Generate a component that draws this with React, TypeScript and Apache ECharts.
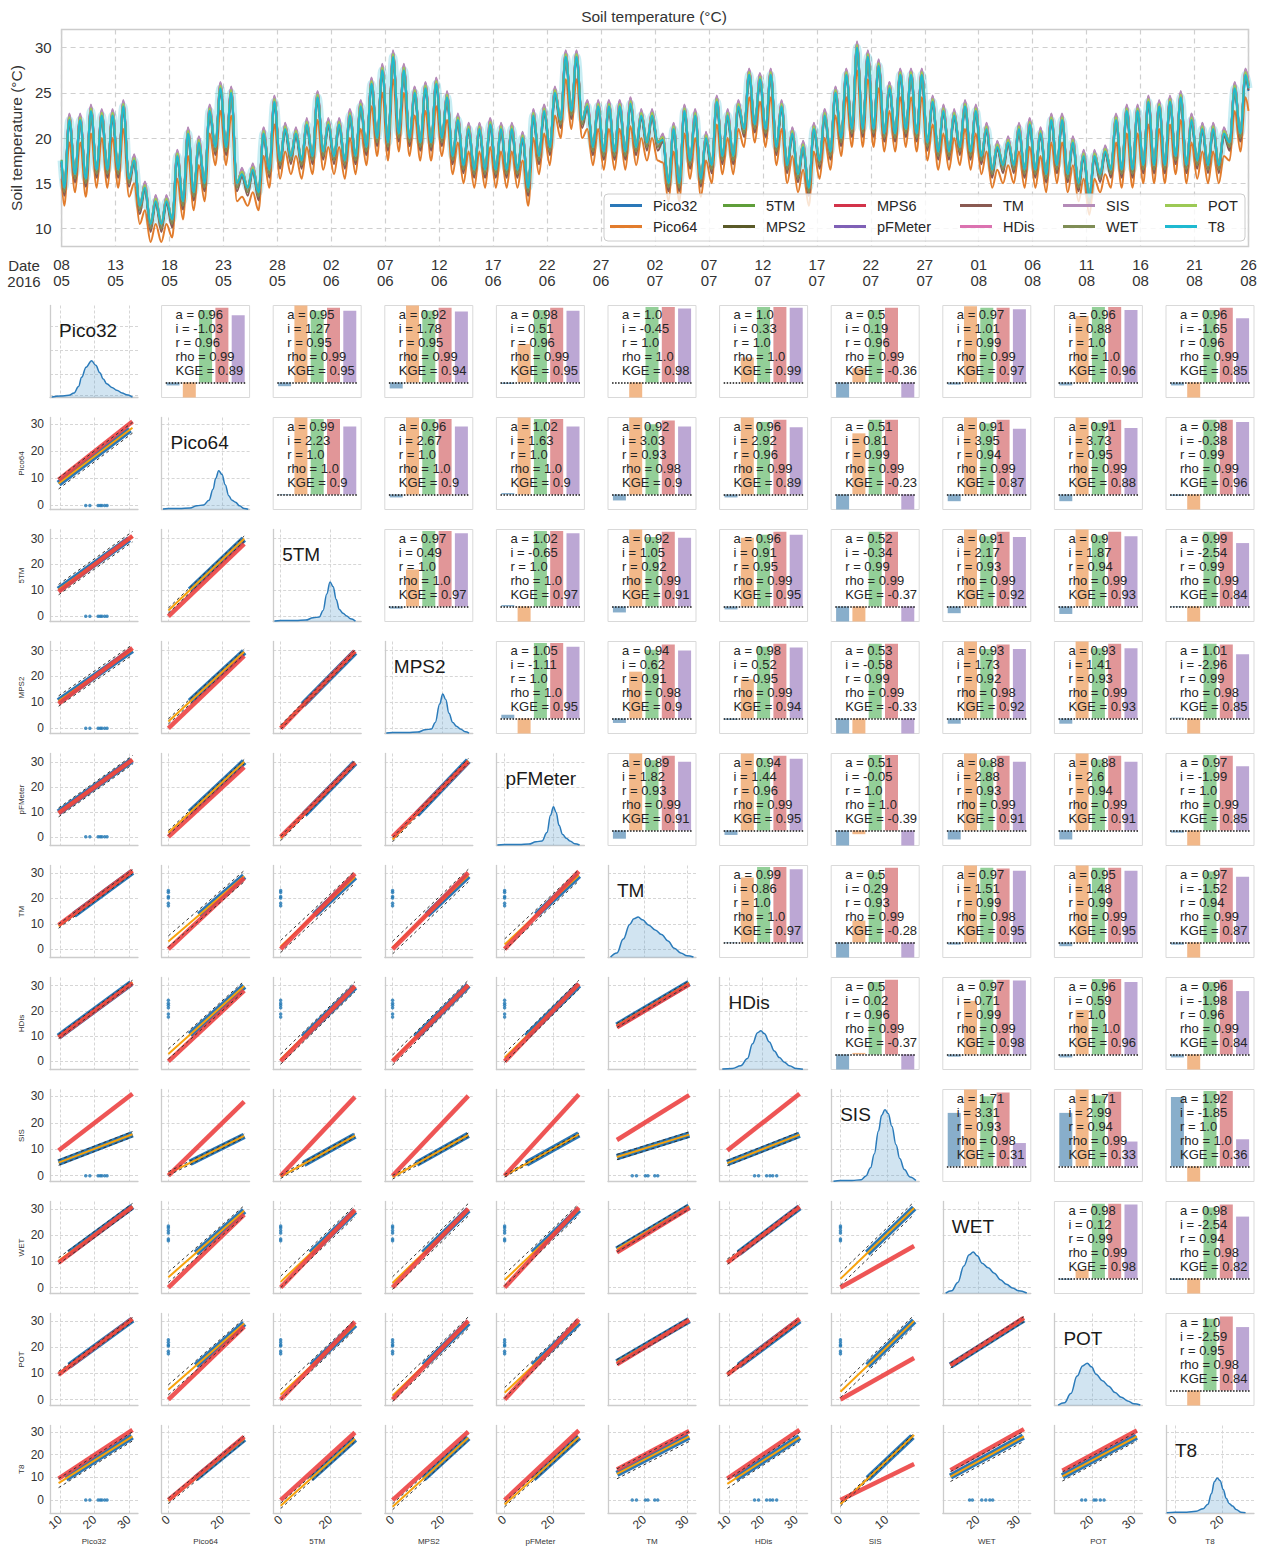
import React, { useEffect, useRef } from "react";
import * as echarts from "echarts";

const FONT = '"Liberation Sans", Arial, sans-serif';

// ---------------- time series (top panel) ----------------
const SENSORS = ["Pico32", "Pico64", "5TM", "MPS2", "MPS6", "pFMeter", "TM", "HDis", "SIS", "WET", "POT", "T8"];
const SENSOR_COLORS = ["#2a78b8", "#e27c2c", "#5f9e3a", "#5a5a28", "#d3334a", "#7f60b6", "#8a5a52", "#db72b0", "#b48bb8", "#7f8d55", "#9cc955", "#1fb9d0"];
// offsets (°C) of each sensor's daily max / min relative to T8
const PEAK_OFFSET = [-0.3, -2.5, 0.4, 0.2, 0.3, 0.5, -0.2, 0.6, 0.7, 0.0, 0.3, 0];
const TROUGH_OFFSET = [-0.2, -2.0, 0.1, -0.2, -0.3, -0.2, -0.9, -0.4, -0.3, -0.5, 0.0, 0];
// T8 daily maxima and minima, day 0 = 08/05/2016
const T8_DAILY_MAX = [
  22, 22, 23, 22.5, 22.5, 23.5, 17.5, 14.5, 13, 13,
  18, 20.5, 19.5, 23, 25.5, 25, 16, 16.5, 20.5, 24,
  21, 20.5, 21.5, 24.5, 21.5, 21.5, 22.5, 23.5, 26, 27.5,
  29, 27.5, 25, 25.5, 26, 24.5, 22, 21, 21, 21.5,
  21, 21, 20, 22.5, 23, 25, 29, 29, 23.5, 23.5,
  23.5, 23.5, 23.8, 22.5, 22.5, 19.8, 21, 23, 22.5, 20,
  24, 22.5, 23.5, 27, 26.5, 27, 23.5, 20.5, 19, 21,
  22.5, 25, 27, 30, 29, 28, 25.5, 27, 27, 27,
  24, 23, 22.5, 23.5, 23, 21, 19, 19.5, 21, 21.5,
  20.5, 22, 22, 19.5, 18, 18, 18.5, 22, 23, 23,
  24, 23.5, 24, 24.5, 22, 21, 21, 20.5, 25.5, 27,
];
const T8_DAILY_MIN = [
  14.5, 16, 15.5, 16.5, 16.5, 16.5, 15.5, 12.5, 10.5, 10.5,
  11, 13, 14, 15, 19, 19, 15, 14.5, 14, 16.5,
  17.5, 18, 17.5, 18, 18.5, 18, 17.5, 18, 19, 20,
  19.5, 20.5, 20, 19.5, 19.5, 20, 18, 17, 16.5, 16.5,
  16.5, 16.5, 16.5, 14.5, 18, 19, 22, 23, 22, 19,
  18.5, 18.5, 18.5, 19, 19.5, 19.5, 15, 15, 17.5, 15.5,
  17, 18, 18, 21, 21.5, 21, 19, 17, 16, 14.5,
  17.5, 18.5, 20, 21, 21, 21, 20.5, 20.5, 21, 20.5,
  19.5, 18.5, 18.5, 19, 18.5, 18, 16.5, 17, 17, 16.5,
  16.5, 16, 17, 16, 15, 13.5, 16, 16.5, 16.5, 16.5,
  17, 17, 17, 18, 17, 17.5, 17, 17, 19.5, 20.5,
];
const T8_FIRST = 17.5;
const T8_LAST = 25.5;
const TS_Y_TICKS = [10, 15, 20, 25, 30];

// ---------------- pair grid ----------------
const VARS = ["Pico32", "Pico64", "5TM", "MPS2", "pFMeter", "TM", "HDis", "SIS", "WET", "POT", "T8"];
// statistics of the upper panels, row-major over (row < col): col = a * row + i
const STAT_A = [
  0.96, 0.95, 0.92, 0.98, 1.0, 1.0, 0.5, 0.97, 0.96, 0.96,
  0.99, 0.96, 1.02, 0.92, 0.96, 0.51, 0.91, 0.91, 0.98,
  0.97, 1.02, 0.92, 0.96, 0.52, 0.91, 0.9, 0.99,
  1.05, 0.94, 0.98, 0.53, 0.93, 0.93, 1.01,
  0.89, 0.94, 0.51, 0.88, 0.88, 0.97,
  0.99, 0.5, 0.97, 0.95, 0.97,
  0.5, 0.97, 0.96, 0.96,
  1.71, 1.71, 1.92,
  0.98, 0.98,
  1.0,
];
const STAT_I = [
  -1.03, 1.27, 1.78, 0.51, -0.45, 0.33, 0.19, 1.01, 0.88, -1.65,
  2.23, 2.67, 1.63, 3.03, 2.92, 0.81, 3.95, 3.73, -0.38,
  0.49, -0.65, 1.05, 0.91, -0.34, 2.17, 1.87, -2.54,
  -1.11, 0.62, 0.52, -0.58, 1.73, 1.41, -2.96,
  1.82, 1.44, -0.05, 2.88, 2.6, -1.99,
  0.86, 0.29, 1.51, 1.48, -1.52,
  0.02, 0.71, 0.59, -1.98,
  3.31, 2.99, -1.85,
  0.12, -2.54,
  -2.59,
];
const STAT_R = [
  0.96, 0.95, 0.95, 0.96, 1.0, 1.0, 0.96, 0.99, 1.0, 0.96,
  1.0, 1.0, 1.0, 0.93, 0.96, 0.99, 0.94, 0.95, 0.99,
  1.0, 1.0, 0.92, 0.95, 0.99, 0.93, 0.94, 0.99,
  1.0, 0.91, 0.95, 0.99, 0.92, 0.93, 0.99,
  0.93, 0.96, 1.0, 0.93, 0.94, 1.0,
  1.0, 0.93, 0.99, 0.99, 0.94,
  0.96, 0.99, 1.0, 0.96,
  0.93, 0.94, 1.0,
  0.99, 0.94,
  0.95,
];
const STAT_RHO = [
  0.99, 0.99, 0.99, 0.99, 1.0, 1.0, 0.99, 0.99, 1.0, 0.99,
  1.0, 1.0, 1.0, 0.98, 0.99, 0.99, 0.99, 0.99, 0.99,
  1.0, 1.0, 0.99, 0.99, 0.99, 0.99, 0.99, 0.99,
  1.0, 0.98, 0.99, 0.99, 0.98, 0.99, 0.98,
  0.99, 0.99, 1.0, 0.99, 0.99, 0.99,
  1.0, 0.99, 0.98, 0.99, 0.99,
  0.99, 0.99, 1.0, 0.99,
  0.98, 0.99, 1.0,
  0.99, 0.98,
  0.98,
];
const STAT_KGE = [
  0.89, 0.95, 0.94, 0.95, 0.98, 0.99, -0.36, 0.97, 0.96, 0.85,
  0.9, 0.9, 0.9, 0.9, 0.89, -0.23, 0.87, 0.88, 0.96,
  0.97, 0.97, 0.91, 0.95, -0.37, 0.92, 0.93, 0.84,
  0.95, 0.9, 0.94, -0.33, 0.92, 0.93, 0.85,
  0.91, 0.95, -0.39, 0.91, 0.91, 0.85,
  0.97, -0.28, 0.95, 0.95, 0.87,
  -0.37, 0.98, 0.96, 0.84,
  0.31, 0.33, 0.36,
  0.98, 0.82,
  0.84,
];
// half width of the dashed prediction band (°C)
const STAT_PI = [
  2.0, 2.0, 2.0, 1.8, 0.8, 0.8, 1.0, 1.2, 0.8, 2.0,
  1.0, 1.0, 0.9, 2.2, 2.0, 0.7, 2.0, 1.9, 1.2,
  0.8, 0.9, 2.4, 2.0, 0.7, 2.2, 2.0, 1.2,
  0.9, 2.5, 2.0, 0.7, 2.4, 2.2, 1.3,
  2.2, 1.8, 0.5, 2.2, 2.0, 1.0,
  0.8, 1.0, 1.0, 1.0, 2.2,
  1.0, 1.0, 0.8, 2.0,
  2.4, 2.2, 0.8,
  1.0, 2.2,
  2.0,
];
const DATA_MIN = [9.5, 8, 9, 9, 9, 13.5, 9.5, 4.5, 13.2, 13, 9.5];
const DATA_MAX = [31, 28, 29.8, 30.2, 30.7, 30.5, 31, 15.9, 31.3, 30.7, 28];
const HAS_ZEROS = [false, true, true, true, true, false, false, true, false, false, true];
const COL_RANGE = [[7, 32.6], [-2.5, 30], [-3, 32.3], [-3.1, 32], [-3.4, 33], [11.4, 32.1], [7.2, 33.4], [-2, 17], [11.3, 33], [11.1, 32], [-3.8, 33.6]];
const ROW_RANGE = [[0, 1], [-1.5, 32.5], [-2, 33.5], [-2, 33.5], [-3.5, 33.5], [-3.3, 33], [-3.2, 33.2], [-2.2, 32.6], [-2.3, 33], [-2.3, 33], [-5.7, 32.9]];
const COL_TICKS = [[10, 20, 30], [0, 20], [0, 20], [0, 20], [0, 20], [20, 30], [10, 20, 30], [0, 10], [20, 30], [20, 30], [0, 20]];
const ROW_TICKS = [0, 10, 20, 30];
const FIRST_DIAG_TICKS = [0.02, 0.255, 0.51, 0.775];
// values of the non-zero sensors at the times where others read 0
const GAP_PICO32 = [17.4, 18.6, 21, 21.6, 22.1, 22.9, 23.6];
const GAP_TM = [17.1, 18.1, 20.2, 20.8, 22.4, 23.1];
const GAP_HDIS = [17.6, 18.8, 21.2, 22.2, 23, 24.2];
const GAP_WET = [17.9, 18.6, 20.9, 21.9, 22.9, 23.6];
const GAP_POT = [17.6, 18.5, 20.5, 21, 22, 22.9];
const GAP_BY_VAR = [GAP_PICO32, null, null, null, null, GAP_TM, GAP_HDIS, null, GAP_WET, GAP_POT, null];
// density curves of the diagonal: [value, height as share of the panel]
const KDE_PICO32 = [[7.5, 0.005], [10, 0.015], [12.5, 0.025], [14, 0.05], [15.3, 0.12], [16.2, 0.22], [17.5, 0.33], [19.1, 0.4], [20.3, 0.35], [21.5, 0.27], [22.5, 0.2], [23.5, 0.15], [25, 0.11], [26.4, 0.08], [28, 0.05], [29.3, 0.03], [31, 0.005]];
const KDE_PICO64 = [[-2, 0.005], [0, 0.01], [4, 0.01], [8, 0.015], [10.5, 0.04], [13, 0.05], [15, 0.1], [16.5, 0.22], [17.5, 0.34], [18.6, 0.42], [19.8, 0.38], [21, 0.27], [22.3, 0.15], [23.5, 0.1], [24.8, 0.08], [26.3, 0.04], [28, 0.01], [29.5, 0.003]];
const KDE_5TM = [[-2.5, 0.005], [0, 0.01], [6, 0.01], [10, 0.015], [13, 0.04], [15.5, 0.05], [17, 0.12], [18.5, 0.3], [19.8, 0.43], [21, 0.38], [22.3, 0.24], [23.5, 0.13], [25, 0.09], [26.5, 0.06], [28, 0.03], [30, 0.005]];
const KDE_MPS2 = [[-2.5, 0.005], [0, 0.01], [6, 0.01], [10, 0.015], [13, 0.04], [15.5, 0.05], [17, 0.12], [18.8, 0.32], [20, 0.43], [21.2, 0.37], [22.5, 0.22], [24, 0.12], [25.5, 0.08], [27, 0.05], [29, 0.02], [30.5, 0.005]];
const KDE_PFMETER = [[-3, 0.005], [0, 0.01], [6, 0.01], [10, 0.015], [13, 0.04], [15.5, 0.05], [17.5, 0.14], [19, 0.33], [20.2, 0.42], [21.3, 0.36], [22.5, 0.22], [24, 0.12], [25.5, 0.08], [27, 0.05], [29, 0.02], [31, 0.005]];
const KDE_TM = [[12, 0.005], [13.5, 0.05], [15, 0.2], [16.5, 0.36], [17.5, 0.42], [18.5, 0.44], [19.5, 0.41], [21, 0.35], [22.5, 0.3], [24, 0.25], [25.5, 0.18], [27, 0.1], [28.5, 0.05], [30, 0.02], [31.5, 0.005]];
const KDE_HDIS = [[8, 0.005], [11, 0.01], [13.5, 0.04], [15.5, 0.12], [17, 0.28], [18.5, 0.4], [19.5, 0.42], [20.5, 0.39], [22, 0.3], [23.5, 0.2], [25, 0.13], [26.5, 0.08], [28, 0.04], [30, 0.01], [32, 0.003]];
const KDE_SIS = [[-1.5, 0.003], [0, 0.01], [2.5, 0.01], [4.5, 0.02], [5.5, 0.06], [6.5, 0.15], [7.3, 0.3], [8.2, 0.55], [8.9, 0.72], [9.6, 0.78], [10.3, 0.74], [11.1, 0.6], [12, 0.4], [12.8, 0.25], [13.8, 0.13], [15, 0.05], [16.3, 0.01]];
const KDE_WET = [[12, 0.005], [13.5, 0.03], [15, 0.12], [16.5, 0.3], [17.8, 0.42], [18.8, 0.45], [19.8, 0.41], [21, 0.33], [22.5, 0.28], [24, 0.22], [25.5, 0.15], [27, 0.1], [28.5, 0.06], [30, 0.03], [32, 0.005]];
const KDE_POT = [[12, 0.005], [13.5, 0.03], [15, 0.13], [16.5, 0.32], [17.8, 0.43], [18.9, 0.46], [19.9, 0.42], [21, 0.34], [22.5, 0.27], [24, 0.21], [25.5, 0.14], [27, 0.09], [28.5, 0.05], [30, 0.02], [31.5, 0.005]];
const KDE_T8 = [[-3.5, 0.003], [0, 0.01], [5, 0.01], [9, 0.02], [12, 0.05], [14, 0.1], [15.5, 0.22], [16.8, 0.36], [18, 0.4], [19.2, 0.37], [20.5, 0.27], [21.8, 0.17], [23, 0.11], [24.5, 0.08], [26, 0.04], [28, 0.01], [30, 0.002]];
const KDE_BY_VAR = [KDE_PICO32, KDE_PICO64, KDE_5TM, KDE_MPS2, KDE_PFMETER, KDE_TM, KDE_HDIS, KDE_SIS, KDE_WET, KDE_POT, KDE_T8];
const BAR_COLORS = ["#88aecb", "#f2b889", "#93cf98", "#e19698", "#bca7d4"];

// ---------------- layout ----------------
const TS = { left: 59.5, top: 29.5, width: 1189, height: 217 };
const PANEL = { left0: 50, top0: 305.5, dx: 111.6, dy: 112, w: 88, h: 92 };
const LEGEND_X = [610, 723, 834, 960, 1063, 1165];

function fmtNum(v: number) {
  return Number.isInteger(v) ? v.toFixed(1) : String(v);
}
function dayLabel(v: number) {
  const d = new Date(2016, 4, 8 + v);
  return String(d.getDate()).padStart(2, "0") + "\n" + String(d.getMonth() + 1).padStart(2, "0");
}
function statIndex(r: number, c: number) {
  let idx = 0;
  for (let k = 0; k < r; k++) idx += VARS.length - 1 - k;
  return idx + (c - r - 1);
}

function buildOption() {
  const grids: any[] = [];
  const xAxes: any[] = [];
  const yAxes: any[] = [];
  const series: any[] = [];
  const graphics: any[] = [];
  const legends: any[] = [];

  // ---- time series ----
  grids.push({ left: TS.left, top: TS.top, width: TS.width, height: TS.height, show: true, borderColor: "#cccccc", borderWidth: 1.5 });
  xAxes.push({
    gridIndex: 0, type: "value", min: 0, max: 110, interval: 5,
    axisLine: { show: false }, axisTick: { show: false },
    axisLabel: { formatter: dayLabel, fontSize: 15, color: "#333", fontFamily: FONT, lineHeight: 16, margin: 10 },
    splitLine: { show: true, lineStyle: { color: "#cfcfcf", width: 1.2, type: [5, 4] } },
  });
  yAxes.push({
    gridIndex: 0, type: "value", min: 8, max: 32,
    axisLine: { show: false }, axisTick: { show: false, customValues: TS_Y_TICKS },
    axisLabel: { customValues: TS_Y_TICKS, fontSize: 15, color: "#333", fontFamily: FONT, margin: 10 },
    splitLine: { show: true, lineStyle: { color: "#cfcfcf", width: 1.2, type: [5, 4] } },
    name: "Soil temperature (°C)", nameLocation: "middle", nameGap: 34,
    nameTextStyle: { fontSize: 15.5, color: "#333", fontFamily: FONT },
  });
  const t8Idx = SENSORS.length - 1;
  SENSORS.forEach((name, k) => {
    const pts: number[][] = [[0, T8_FIRST + TROUGH_OFFSET[k]]];
    for (let d = 0; d < T8_DAILY_MAX.length; d++) {
      pts.push([d + 0.25, T8_DAILY_MIN[d] + TROUGH_OFFSET[k]]);
      pts.push([d + 0.72, T8_DAILY_MAX[d] + PEAK_OFFSET[k]]);
    }
    pts.push([110, T8_LAST + PEAK_OFFSET[k]]);
    if (k === t8Idx) {
      series.push({
        name: "T8 band", type: "line", xAxisIndex: 0, yAxisIndex: 0, data: pts, symbol: "none",
        smooth: 0.35, smoothMonotone: "x", silent: true, z: 2,
        lineStyle: { color: "rgba(31,185,208,0.25)", width: 8 },
      });
    }
    series.push({
      name, type: "line", xAxisIndex: 0, yAxisIndex: 0, data: pts, symbol: "none",
      smooth: 0.35, smoothMonotone: "x", silent: true, z: 3,
      lineStyle: { color: SENSOR_COLORS[k], width: 2 }, itemStyle: { color: SENSOR_COLORS[k] },
    });
  });
  for (let k = 0; k < 6; k++) {
    legends.push({
      orient: "vertical", left: LEGEND_X[k], top: 198, padding: 0, itemWidth: 32, itemHeight: 3, icon: "rect",
      itemGap: 6, selectedMode: false, z: 20,
      textStyle: { fontSize: 14.5, color: "#262626", fontFamily: FONT, lineHeight: 15, padding: [0, 0, 0, 6] },
      data: [SENSORS[2 * k], SENSORS[2 * k + 1]],
    });
  }
  graphics.push({
    type: "rect", z: 10, shape: { x: 604, y: 194, width: 641, height: 47, r: 4 },
    style: { fill: "rgba(255,255,255,0.8)", stroke: "#cccccc", lineWidth: 1 },
  });
  graphics.push({
    type: "text", z: 10, x: 24, y: 257,
    style: { text: "Date\n2016", font: `15px ${FONT}`, fill: "#333", align: "center", verticalAlign: "top", lineHeight: 16 },
  });
  graphics.push({
    type: "text", z: 10, x: TS.left + TS.width / 2, y: 16,
    style: { text: "Soil temperature (°C)", font: `15.5px ${FONT}`, fill: "#333", align: "center", verticalAlign: "middle" },
  });

  // ---- pair grid ----
  const n = VARS.length;
  const splitStyle = { show: true, lineStyle: { color: "#d6d6d6", width: 1, type: [3, 2] } };
  const spine = { show: true, onZero: false, lineStyle: { color: "#cccccc", width: 1.3 } };
  for (let r = 0; r < n; r++) {
    for (let c = 0; c < n; c++) {
      const g = grids.length;
      const left = PANEL.left0 + c * PANEL.dx;
      const top = PANEL.top0 + r * PANEL.dy;
      if (r < c) {
        const s = statIndex(r, c);
        grids.push({ left, top, width: PANEL.w, height: PANEL.h, show: true, borderColor: "#d9d9d9", borderWidth: 1 });
        xAxes.push({ gridIndex: g, type: "value", min: -0.7, max: 4.7, show: false });
        const yi = yAxes.length;
        yAxes.push({ gridIndex: g, type: "value", min: -0.2, max: 1.02, show: false });
        const vals = [STAT_A[s] - 1, STAT_I[s], STAT_R[s], STAT_RHO[s], STAT_KGE[s]];
        series.push({
          type: "bar", xAxisIndex: g, yAxisIndex: yi, barWidth: 13, clip: true, silent: true,
          data: vals.map((v, k) => ({ value: [k, v], itemStyle: { color: BAR_COLORS[k] } })),
          markLine: {
            silent: true, symbol: ["none", "none"], label: { show: false },
            lineStyle: { color: "#111", type: "dotted", width: 1.5 },
            data: [[{ coord: [-0.45, 0] }, { coord: [4.45, 0] }]],
          },
        });
        graphics.push({
          type: "text", z: 100, x: left + 14, y: top + 2,
          style: {
            text: `a = ${fmtNum(STAT_A[s])}\ni = ${fmtNum(STAT_I[s])}\nr = ${fmtNum(STAT_R[s])}\nrho = ${fmtNum(STAT_RHO[s])}\nKGE = ${fmtNum(STAT_KGE[s])}`,
            font: `13px ${FONT}`, fill: "#262626", lineHeight: 14, verticalAlign: "top",
          },
        });
        continue;
      }
      grids.push({ left, top, width: PANEL.w, height: PANEL.h });
      const bottomRow = r === n - 1;
      xAxes.push({
        gridIndex: g, type: "value", min: COL_RANGE[c][0], max: COL_RANGE[c][1],
        axisLine: spine, axisTick: { show: false, customValues: COL_TICKS[c] },
        axisLabel: bottomRow
          ? { show: true, customValues: COL_TICKS[c], rotate: 40, fontSize: 12, color: "#333", fontFamily: FONT, margin: 5 }
          : { show: false, customValues: COL_TICKS[c] },
        splitLine: splitStyle,
        name: bottomRow ? VARS[c] : "", nameLocation: "middle", nameGap: 24,
        nameTextStyle: { fontSize: 8, color: "#333", fontFamily: FONT },
      });
      const yTicks = r === 0 ? FIRST_DIAG_TICKS : ROW_TICKS;
      const firstCol = c === 0 && r > 0;
      const yi = yAxes.length;
      yAxes.push({
        gridIndex: g, type: "value", min: ROW_RANGE[r][0], max: ROW_RANGE[r][1],
        axisLine: spine, axisTick: { show: false, customValues: yTicks },
        axisLabel: firstCol
          ? { show: true, customValues: yTicks, fontSize: 12, color: "#333", fontFamily: FONT, margin: 6 }
          : { show: false, customValues: yTicks },
        splitLine: splitStyle,
        name: firstCol ? VARS[r] : "", nameLocation: "middle", nameGap: 25,
        nameTextStyle: { fontSize: 8, color: "#333", fontFamily: FONT },
      });
      if (r === c) {
        const ki = yAxes.length;
        yAxes.push({ gridIndex: g, type: "value", min: 0, max: 1, show: false });
        series.push({
          type: "line", xAxisIndex: g, yAxisIndex: ki, data: KDE_BY_VAR[r], symbol: "none",
          smooth: 0.4, smoothMonotone: "x", silent: true,
          lineStyle: { color: "#2b7bba", width: 1.5 },
          areaStyle: { color: "rgba(84,152,202,0.38)" },
        });
        graphics.push({
          type: "text", z: 100, x: left + 9, y: top + 25,
          style: { text: VARS[r], font: `19px ${FONT}`, fill: "#1a1a1a", verticalAlign: "middle" },
        });
        continue;
      }
      // lower panel: y = row variable, x = column variable
      const s = statIndex(c, r);
      const a = STAT_A[s], b = STAT_I[s], w = STAT_PI[s];
      const x0 = HAS_ZEROS[c] ? 0 : DATA_MIN[c];
      const x1 = DATA_MAX[c];
      const bx0 = Math.max(DATA_MIN[c], (DATA_MIN[r] - b) / a);
      const bx1 = Math.min(DATA_MAX[c], (DATA_MAX[r] - b) / a);
      const common = { xAxisIndex: g, yAxisIndex: yi, symbol: "none", silent: true, clip: true };
      series.push({ ...common, type: "line", z: 2, data: [[bx0, a * bx0 + b], [bx1, a * bx1 + b]], lineStyle: { color: "#2a77b5", width: 6.5 } });
      series.push({ ...common, type: "line", z: 3, data: [[x0, a * x0 + b], [x1, a * x1 + b]], lineStyle: { color: "#f6a20c", width: 2 } });
      series.push({ ...common, type: "line", z: 4, data: [[x0, x0], [x1, x1]], lineStyle: { color: "rgba(236,66,66,0.9)", width: 4.5 } });
      series.push({ ...common, type: "line", z: 5, data: [[x0, a * x0 + b + w], [x1, a * x1 + b + w]], lineStyle: { color: "#333", width: 1, type: [3, 3] } });
      series.push({ ...common, type: "line", z: 5, data: [[x0, a * x0 + b - w], [x1, a * x1 + b - w]], lineStyle: { color: "#333", width: 1, type: [3, 3] } });
      let dots: number[][] = [];
      if (HAS_ZEROS[r] && !HAS_ZEROS[c] && GAP_BY_VAR[c]) dots = (GAP_BY_VAR[c] as number[]).map((v) => [v, 0]);
      if (HAS_ZEROS[c] && !HAS_ZEROS[r] && GAP_BY_VAR[r]) dots = (GAP_BY_VAR[r] as number[]).map((v) => [0, v]);
      if (dots.length) {
        series.push({ type: "scatter", xAxisIndex: g, yAxisIndex: yi, data: dots, symbolSize: 3.5, silent: true, z: 6, itemStyle: { color: "#1f77b4" } });
      }
    }
  }

  return {
    animation: false,
    backgroundColor: "#ffffff",
    textStyle: { fontFamily: FONT },
    grid: grids,
    xAxis: xAxes,
    yAxis: yAxes,
    legend: legends,
    series,
    graphic: graphics,
  };
}

export default function App() {
  const ref = useRef<HTMLDivElement>(null);
  useEffect(() => {
    document.body.style.margin = "0";
    const chart = echarts.init(ref.current as HTMLDivElement, null, { renderer: "svg" });
    chart.setOption(buildOption() as any);
    return () => chart.dispose();
  }, []);
  return <div ref={ref} style={{ width: 1261, height: 1546 }} />;
}
